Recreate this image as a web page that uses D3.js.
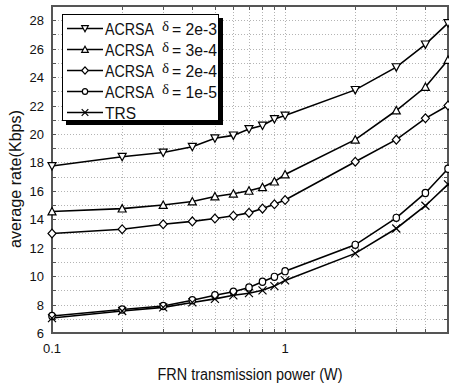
<!DOCTYPE html>
<html>
<head>
<meta charset="utf-8">
<script src="https://cdn.jsdelivr.net/npm/d3@7/dist/d3.min.js"></script>
<style>
  body { margin: 0; background: #fff; }
  text { font-family: Arial, "Liberation Sans", sans-serif; fill: #111; }
</style>
</head>
<body>
<svg id="chart" width="449" height="387"></svg>
<script>
// transmit power (W), x positions of every sample
const power = [0.1, 0.2, 0.3, 0.4, 0.5, 0.6, 0.7, 0.8, 0.9, 1, 2, 3, 4, 5];

// average rate (Kbps) per curve
const acrsa2e3 = [17.75, 18.4, 18.7, 19.1, 19.7, 19.9, 20.35, 20.6, 21.05, 21.3, 23.1, 24.7, 26.3, 27.8];
const acrsa3e4 = [14.55, 14.75, 15.0, 15.25, 15.6, 15.8, 16.0, 16.25, 16.65, 17.15, 19.6, 21.65, 23.3, 25.2];
const acrsa2e4 = [13.0, 13.3, 13.65, 13.85, 14.05, 14.25, 14.45, 14.75, 15.05, 15.35, 18.05, 19.6, 21.1, 22.0];
const acrsa1e5 = [7.2, 7.65, 7.9, 8.3, 8.65, 8.9, 9.2, 9.6, 9.95, 10.35, 12.2, 14.1, 15.85, 17.55];
const trs      = [7.05, 7.55, 7.8, 8.15, 8.4, 8.65, 8.8, 9.0, 9.3, 9.7, 11.6, 13.35, 14.95, 16.45];

const legendAlgo  = ["ACRSA", "ACRSA", "ACRSA", "ACRSA", "TRS"];
const legendDelta = ["2e-3", "3e-4", "2e-4", "1e-5", null];
const markerKinds = ["down", "up", "diamond", "circle", "cross"];

const xTickLabels = [0.1, 1];
const xMinor = [0.1, 0.2, 0.3, 0.4, 0.5, 0.6, 0.7, 0.8, 0.9, 1, 2, 3, 4, 5];
const yTickLabels = [6, 8, 10, 12, 14, 16, 18, 20, 22, 24, 26, 28];

const series = [acrsa2e3, acrsa3e4, acrsa2e4, acrsa1e5, trs];

const width = 449, height = 387;
const margin = { top: 6, right: 1, bottom: 54, left: 52 };

const svg = d3.select("#chart");

const x = d3.scaleLog()
  .domain([0.1, 5])
  .range([margin.left, width - margin.right]);

const y = d3.scaleLinear()
  .domain([6, 29])
  .range([height - margin.bottom, margin.top]);

const x0 = x.range()[0], x1 = x.range()[1];
const y0 = y.range()[0], y1 = y.range()[1];

// grid
const grid = svg.append("g")
  .attr("stroke", "#b4b4b4")
  .attr("stroke-width", 1)
  .attr("stroke-dasharray", "1,2");

grid.selectAll(".gy")
  .data(d3.range(7, 29))
  .join("line")
  .attr("x1", x0).attr("x2", x1)
  .attr("y1", d => Math.round(y(d)) + 0.5)
  .attr("y2", d => Math.round(y(d)) + 0.5);

grid.selectAll(".gx")
  .data(xMinor.filter(d => d > 0.1 && d < 5))
  .join("line")
  .attr("y1", y1).attr("y2", y0)
  .attr("x1", d => Math.round(x(d)) + 0.5)
  .attr("x2", d => Math.round(x(d)) + 0.5);

// ticks (inward)
const ticks = svg.append("g").attr("stroke", "#555").attr("stroke-width", 1);
d3.range(7, 29).forEach(v => {
  const yy = Math.round(y(v)) + 0.5;
  ticks.append("line").attr("x1", x0).attr("x2", x0 + 4).attr("y1", yy).attr("y2", yy);
  ticks.append("line").attr("x1", x1 - 4).attr("x2", x1).attr("y1", yy).attr("y2", yy);
});
xMinor.forEach(v => {
  const xx = Math.round(x(v)) + 0.5;
  ticks.append("line").attr("x1", xx).attr("x2", xx).attr("y1", y0).attr("y2", y0 - 4);
  ticks.append("line").attr("x1", xx).attr("x2", xx).attr("y1", y1).attr("y2", y1 + 4);
});

// frame
svg.append("rect")
  .attr("x", x0).attr("y", y1)
  .attr("width", x1 - x0).attr("height", y0 - y1)
  .attr("fill", "none")
  .attr("stroke", "#555")
  .attr("stroke-width", 2);

// tick labels
svg.append("g").selectAll("text")
  .data(yTickLabels)
  .join("text")
  .attr("x", x0 - 8)
  .attr("y", d => y(d) + 5)
  .attr("text-anchor", "end")
  .attr("font-size", 13)
  .text(d => d);

svg.append("g").selectAll("text")
  .data(xTickLabels)
  .join("text")
  .attr("x", d => x(d))
  .attr("y", y0 + 20)
  .attr("text-anchor", "middle")
  .attr("font-size", 13)
  .text(d => d);

// axis titles
svg.append("text")
  .attr("x", (x0 + x1) / 2)
  .attr("y", 380)
  .attr("text-anchor", "middle")
  .attr("font-size", 16)
  .attr("textLength", 185)
  .attr("lengthAdjust", "spacingAndGlyphs")
  .text("FRN transmission power (W)");

svg.append("text")
  .attr("transform", "translate(21,179) rotate(-90)")
  .attr("text-anchor", "middle")
  .attr("font-size", 16)
  .attr("textLength", 138)
  .attr("lengthAdjust", "spacingAndGlyphs")
  .text("average rate(Kbps)");

// marker drawing
function drawMarker(g, kind, cx, cy, s) {
  if (kind === "down") {
    g.append("path")
      .attr("d", `M${cx - s},${cy - s * 0.85}L${cx + s},${cy - s * 0.85}L${cx},${cy + s}Z`)
      .attr("fill", "#fff").attr("stroke", "#000").attr("stroke-width", 1.2);
  } else if (kind === "up") {
    g.append("path")
      .attr("d", `M${cx - s},${cy + s * 0.85}L${cx + s},${cy + s * 0.85}L${cx},${cy - s}Z`)
      .attr("fill", "#fff").attr("stroke", "#000").attr("stroke-width", 1.2);
  } else if (kind === "diamond") {
    g.append("path")
      .attr("d", `M${cx},${cy - s * 1.1}L${cx + s},${cy}L${cx},${cy + s * 1.1}L${cx - s},${cy}Z`)
      .attr("fill", "#fff").attr("stroke", "#000").attr("stroke-width", 1.2);
  } else if (kind === "circle") {
    g.append("ellipse")
      .attr("cx", cx).attr("cy", cy).attr("rx", s * 0.8).attr("ry", s * 0.9)
      .attr("fill", "#fff").attr("stroke", "#000").attr("stroke-width", 1.2);
  } else {
    g.append("path")
      .attr("d", `M${cx - s},${cy - s}L${cx + s},${cy + s}M${cx - s},${cy + s}L${cx + s},${cy - s}`)
      .attr("fill", "none").attr("stroke", "#000").attr("stroke-width", 1.2);
  }
}

const line = d3.line()
  .x((d, i) => x(power[i]))
  .y(d => y(d));

const plot = svg.append("g");
series.forEach((vals, k) => {
  plot.append("path")
    .datum(vals)
    .attr("fill", "none")
    .attr("stroke", "#000")
    .attr("stroke-width", 1.6)
    .attr("d", line);
});
series.forEach((vals, k) => {
  const g = plot.append("g");
  vals.forEach((v, i) => drawMarker(g, markerKinds[k], x(power[i]), y(v), 4));
});

// legend
const lg = svg.append("g");
lg.append("rect")
  .attr("x", 66).attr("y", 18)
  .attr("width", 157).attr("height", 107)
  .attr("fill", "#000");
lg.append("rect")
  .attr("x", 62.5).attr("y", 14.5)
  .attr("width", 156).attr("height", 106)
  .attr("fill", "#fff")
  .attr("stroke", "#000")
  .attr("stroke-width", 1);

legendAlgo.forEach((name, i) => {
  const yy = 28.5 + i * 21;
  lg.append("line")
    .attr("x1", 67).attr("x2", 103)
    .attr("y1", yy).attr("y2", yy)
    .attr("stroke", "#000").attr("stroke-width", 1.6);
  drawMarker(lg, markerKinds[i], 85, yy, 3.3);
  const nameLen = name === "TRS" ? 31 : 49;
  lg.append("text")
    .attr("x", 105).attr("y", yy + 6)
    .attr("font-size", 16)
    .attr("textLength", nameLen)
    .attr("lengthAdjust", "spacingAndGlyphs")
    .text(name);
  if (legendDelta[i]) {
    lg.append("text")
      .attr("x", 162).attr("y", yy + 2)
      .attr("font-size", 15)
      .style("font-family", "'Liberation Serif', 'DejaVu Serif', serif")
      .text("δ");
    lg.append("text")
      .attr("x", 172).attr("y", yy + 6)
      .attr("font-size", 16)
      .attr("textLength", 45)
      .attr("lengthAdjust", "spacingAndGlyphs")
      .text("= " + legendDelta[i]);
  }
});
</script>
</body>
</html>
